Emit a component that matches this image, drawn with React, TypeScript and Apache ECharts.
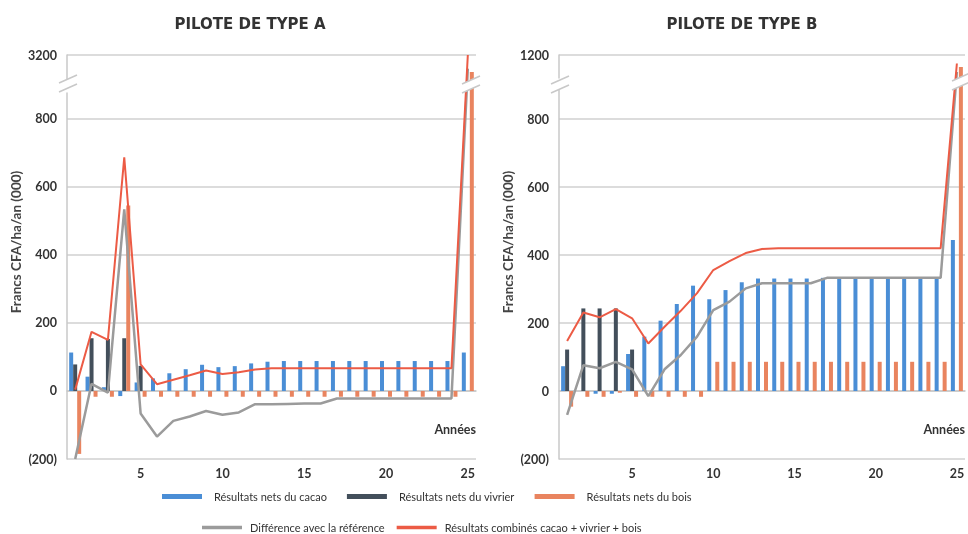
import React, { useEffect, useRef } from 'react';
import * as echarts from 'echarts';

const years = ['1','2','3','4','5','6','7','8','9','10','11','12','13','14','15','16','17','18','19','20','21','22','23','24','25'];

// Pilote de type A
const cacaoA = [113, 42, 11, -15, 25, 37, 52, 64, 77, 70, 73, 81, 86, 88, 88, 88, 88, 88, 88, 88, 88, 88, 88, 88, 113];
const vivrierA = [78, 155, 153, 155, 74, null, null, null, null, null, null, null, null, null, null, null, null, null, null, null, null, null, null, null, null];
const boisA = [-185, -17, -17, 545, -17, -17, -17, -17, -17, -17, -17, -17, -17, -17, -17, -17, -17, -17, -17, -17, -17, -17, -17, -17, 3150];
const diffA = [-200, 21, -5, 534, -66, -134, -88, -75, -59, -70, -63, -39, -39, -38, -37, -37, -22, -22, -22, -22, -22, -22, -22, -22, 3160];
const combA = [4, 174, 150, 687, 78, 20, 33, 46, 60, 50, 55, 63, 67, 67, 67, 67, 67, 67, 67, 67, 67, 67, 67, 67, 3200];

// Pilote de type B
const cacaoB = [73, 0, -8, -8, 109, 160, 207, 256, 310, 270, 297, 320, 331, 331, 331, 331, 333, 333, 333, 333, 333, 333, 333, 333, 444];
const vivrierB = [122, 243, 243, 243, 122, null, null, null, null, null, null, null, null, null, null, null, null, null, null, null, null, null, null, null, null];
const boisB = [-46, -17, -17, -5, -17, -17, -17, -17, -17, 86, 86, 86, 86, 86, 86, 86, 86, 86, 86, 86, 86, 86, 86, 86, 1165];
const diffB = [-70, 76, 67, 86, 64, -15, 64, 106, 160, 238, 263, 302, 317, 317, 317, 317, 333, 333, 333, 333, 333, 333, 333, 333, 1150];
const combB = [147, 231, 217, 241, 214, 140, 189, 236, 288, 356, 382, 406, 418, 420, 420, 420, 420, 420, 420, 420, 420, 420, 420, 420, 1175];

const yTicksA = [-200, 0, 200, 400, 600, 800, 3200];
const yTicksB = [-200, 0, 200, 400, 600, 800, 1200];

const titles = ['PILOTE DE TYPE A', 'PILOTE DE TYPE B'];
const names = {
  cacao: 'Résultats nets du cacao',
  vivrier: 'Résultats nets du vivrier',
  bois: 'Résultats nets du bois',
  diff: 'Différence avec la référence',
  comb: 'Résultats combinés cacao + vivrier + bois',
};

const C = {
  cacao: '#4a8ed6',
  vivrier: '#434f5b',
  bois: '#e9845f',
  diff: '#9b9b9b',
  comb: '#ec5b45',
  grid: '#d0d0d0',
  text: '#333333',
};

const FONT = 'Lato, "Open Sans", "DejaVu Sans", sans-serif';
const TITLE_FONT = '"DejaVu Sans", "Open Sans", sans-serif';

function fmt(v: number) {
  return v < 0 ? `(${-v})` : `${v}`;
}

function breakMark(x: number, y: number) {
  // two parallel slanted strokes with a white gap between
  const dx = 18, dy = 8, h = 9;
  return [
    {
      type: 'polygon', z: 100,
      shape: { points: [[x, y], [x + dx, y - dy], [x + dx, y - dy - h], [x, y - h]] },
      style: { fill: '#ffffff' },
    },
    {
      type: 'line', z: 101,
      shape: { x1: x, y1: y, x2: x + dx, y2: y - dy },
      style: { stroke: '#c8c8c8', lineWidth: 1.5 },
    },
    {
      type: 'line', z: 101,
      shape: { x1: x, y1: y - h, x2: x + dx, y2: y - dy - h },
      style: { stroke: '#c8c8c8', lineWidth: 1.5 },
    },
  ];
}

export default function App() {
  const ref = useRef<HTMLDivElement>(null);

  useEffect(() => {
    if (!ref.current) return;
    const chart = echarts.init(ref.current, null, { renderer: 'svg' });

    const xAxis = (gi: number) => ({
      type: 'category',
      gridIndex: gi,
      data: years,
      boundaryGap: true,
      axisTick: { show: false },
      axisLine: { onZero: true, lineStyle: { color: '#c8c8c8', width: 1.5 } },
      axisLabel: {
        interval: (i: number) => (i + 1) % 5 === 0,
        color: C.text, fontWeight: 'bold', fontSize: 12.5, margin: 8, fontFamily: FONT,
      },
      name: 'Années',
      nameLocation: 'end',
      nameGap: 0,
      nameTextStyle: {
        align: 'right', verticalAlign: 'top', padding: [32, 0, 0, 0],
        color: C.text, fontWeight: 'bold', fontSize: 12.5, fontFamily: FONT,
      },
    });

    const yAxis = (gi: number, max: number, brk: [number, number], ticks: number[]) => ({
      type: 'value',
      gridIndex: gi,
      min: -200,
      max,
      interval: 200,
      breaks: [{ start: brk[0], end: brk[1], gap: '3%' }],
      breakArea: {
        show: false,
        expandOnClick: false,
        zigzagAmplitude: 0,
        itemStyle: { color: 'rgba(0,0,0,0)', borderColor: 'rgba(0,0,0,0)', opacity: 0 },
      },
      axisLine: { show: true, lineStyle: { color: '#c8c8c8', width: 1.5 } },
      axisTick: { show: false, customValues: ticks },
      splitLine: { show: true, lineStyle: { color: C.grid, width: 1.5 } },
      axisLabel: {
        customValues: ticks,
        formatter: fmt, color: C.text, fontWeight: 'bold', fontSize: 12.5, margin: 10, fontFamily: FONT,
      },
      name: 'Francs CFA/ha/an (000)',
      nameLocation: 'middle',
      nameGap: 44,
      nameTextStyle: {
        color: '#444', fontWeight: 'bold', fontSize: 13.5, fontFamily: FONT, padding: [0, 0, 0, 30],
      },
    });

    const barSeries = (gi: number, name: string, data: (number | null)[], color: string) => ({
      type: 'bar', name, data, xAxisIndex: gi, yAxisIndex: gi,
      barWidth: 4, barGap: '0%',
      itemStyle: { color },
      z: 2,
    });
    const lineSeries = (gi: number, name: string, data: number[], color: string, width: number, z: number) => ({
      type: 'line', name, data, xAxisIndex: gi, yAxisIndex: gi,
      symbol: 'none', showSymbol: false,
      lineStyle: { color, width },
      itemStyle: { color },
      z,
    });

    chart.setOption({
      animation: false,
      textStyle: { fontFamily: FONT },
      title: [
        { text: titles[0], left: 245, top: 11, textAlign: 'center', textStyle: { fontSize: 15, fontWeight: 'bold', color: C.text, fontFamily: TITLE_FONT } },
        { text: titles[1], left: 737, top: 11, textAlign: 'center', textStyle: { fontSize: 15, fontWeight: 'bold', color: C.text, fontFamily: TITLE_FONT } },
      ],
      grid: [
        { left: 67, top: 55, width: 409, height: 404, containLabel: false },
        { left: 559, top: 55, width: 414, height: 404, containLabel: false },
      ],
      xAxis: [xAxis(0), xAxis(1)],
      yAxis: [
        yAxis(0, 3200, [876, 3124], yTicksA),
        yAxis(1, 1200, [885, 1132], yTicksB),
      ],
      legend: [
        {
          data: [names.cacao, names.vivrier, names.bois],
          left: 157, top: 486, icon: 'rect', itemWidth: 40, itemHeight: 5, itemGap: 20,
          selectedMode: false,
          textStyle: { fontSize: 11, color: C.text, fontFamily: FONT, padding: [0, 0, 0, 7] },
        },
        {
          data: [names.diff, names.comb],
          left: 197, top: 517, icon: 'rect', itemWidth: 40, itemHeight: 3.5, itemGap: 12,
          selectedMode: false,
          textStyle: { fontSize: 11, color: C.text, fontFamily: FONT, padding: [0, 0, 0, 3] },
        },
      ],
      series: [
        barSeries(0, names.cacao, cacaoA, C.cacao),
        barSeries(0, names.vivrier, vivrierA, C.vivrier),
        barSeries(0, names.bois, boisA, C.bois),
        lineSeries(0, names.diff, diffA, C.diff, 2.5, 5),
        lineSeries(0, names.comb, combA, C.comb, 2, 6),
        barSeries(1, names.cacao, cacaoB, C.cacao),
        barSeries(1, names.vivrier, vivrierB, C.vivrier),
        barSeries(1, names.bois, boisB, C.bois),
        lineSeries(1, names.diff, diffB, C.diff, 2.5, 5),
        lineSeries(1, names.comb, combB, C.comb, 2, 6),
      ],
      graphic: [
        ...breakMark(59, 92),
        ...breakMark(462, 93),
        ...breakMark(551, 93),
        ...breakMark(952, 90),
      ],
    });

    return () => chart.dispose();
  }, []);

  return <div ref={ref} style={{ position: 'fixed', left: 0, top: 0, width: 968, height: 534 }} />;
}
